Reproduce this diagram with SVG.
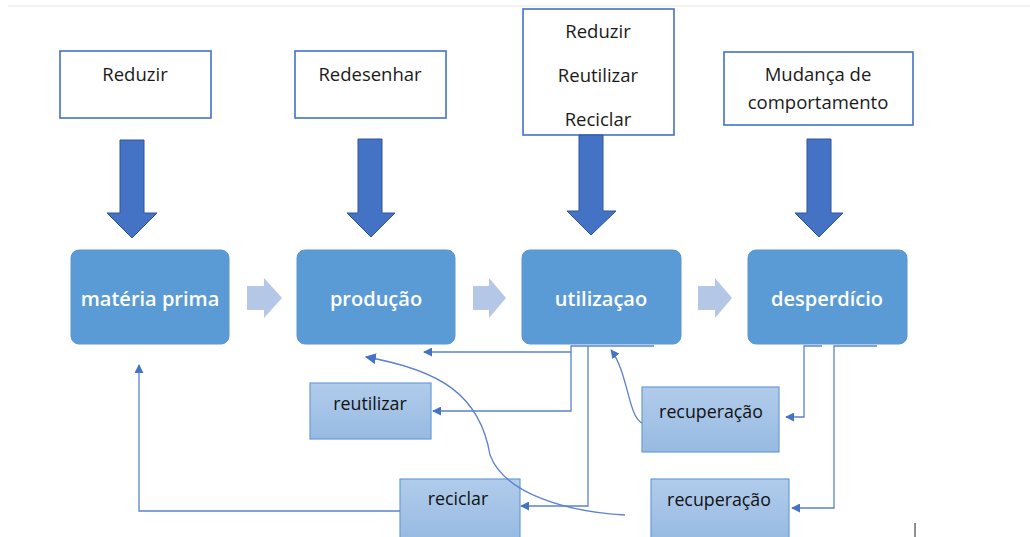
<svg xmlns="http://www.w3.org/2000/svg" width="1030" height="537" viewBox="0 0 1030 537">
  <defs>
    <linearGradient id="softBlue" x1="0" y1="0" x2="0" y2="1">
      <stop offset="0" stop-color="#B1CCEB"/>
      <stop offset="1" stop-color="#97BAE2"/>
    </linearGradient>
    <marker id="tip" viewBox="0 0 10 10" refX="9" refY="5" markerWidth="9" markerHeight="9" markerUnits="userSpaceOnUse" orient="auto">
      <path d="M0,0 L10,5 L0,10 z" fill="#4472C4"/>
    </marker>
    <marker id="tipBig" viewBox="0 0 10 10" refX="9" refY="5" markerWidth="11" markerHeight="11" markerUnits="userSpaceOnUse" orient="auto">
      <path d="M0,0 L10,5 L0,10 z" fill="#4472C4"/>
    </marker>
  </defs>
  <style>
    .note { fill: #FFFFFF; stroke: #4472C4; stroke-width: 1.6; }
    .noteText { font-family: "Open Sans", "Liberation Sans", sans-serif; font-size: 18.5px; fill: #1A1A1A; text-anchor: middle; }
    .stage { fill: #5B9BD5; stroke: #5A96D0; stroke-width: 1; }
    .stageText { font-family: "Open Sans", "Liberation Sans", sans-serif; font-size: 20px; font-weight: 600; fill: #FFFFFF; text-anchor: middle; }
    .down { fill: #4472C4; stroke: #2F5597; stroke-width: 1; }
    .step { fill: #B4C7E7; }
    .sub { fill: url(#softBlue); stroke: #6A9CD6; stroke-width: 1.2; }
    .subText { font-family: "Open Sans", "Liberation Sans", sans-serif; font-size: 17.8px; fill: #111111; text-anchor: middle; }
    .link { fill: none; stroke: #5A82CC; stroke-width: 1.3; }
  </style>

  <rect width="1030" height="537" fill="#FFFFFF"/>
  <line x1="8" y1="6" x2="1030" y2="6" stroke="#EEEEEE" stroke-width="1.5"/>

  <!-- strategy notes -->
  <g id="note-reduzir">
    <rect class="note" x="60" y="51" width="151" height="67"/>
    <text class="noteText" x="135" y="81">Reduzir</text>
  </g>
  <g id="note-redesenhar">
    <rect class="note" x="295" y="51" width="151" height="67"/>
    <text class="noteText" x="370" y="81">Redesenhar</text>
  </g>
  <g id="note-3r">
    <rect class="note" x="523" y="9" width="151" height="126"/>
    <text class="noteText" x="598" y="38">Reduzir</text>
    <text class="noteText" x="598" y="82">Reutilizar</text>
    <text class="noteText" x="598" y="126">Reciclar</text>
  </g>
  <g id="note-mudanca">
    <rect class="note" x="724" y="52" width="189" height="73"/>
    <text class="noteText" x="818" y="81">Mudança de</text>
    <text class="noteText" x="818" y="109">comportamento</text>
  </g>

  <!-- heavy downward arrows -->
  <g id="down-arrows">
    <path class="down" d="M120,140 H144 V213 H157 L132,238 L107,213 H120 Z"/>
    <path class="down" d="M358,139 H382 V213 H395 L371,237 L347,213 H358 Z"/>
    <path class="down" d="M579,135 H603 V211 H616 L591,235 L567,211 H579 Z"/>
    <path class="down" d="M807,139 H831 V213 H843 L819,237 L795,213 H807 Z"/>
  </g>

  <!-- main stages -->
  <g id="stage-materia">
    <rect class="stage" x="71" y="250" width="158" height="94" rx="8"/>
    <text class="stageText" x="150" y="306">matéria prima</text>
  </g>
  <g id="stage-producao">
    <rect class="stage" x="297" y="250" width="158" height="94" rx="8"/>
    <text class="stageText" x="376" y="306">produção</text>
  </g>
  <g id="stage-utilizacao">
    <rect class="stage" x="522" y="250" width="159" height="94" rx="8"/>
    <text class="stageText" x="601" y="306">utilizaçao</text>
  </g>
  <g id="stage-desperdicio">
    <rect class="stage" x="748" y="250" width="159" height="94" rx="8"/>
    <text class="stageText" x="827" y="306">desperdício</text>
  </g>

  <!-- flow chevrons between stages -->
  <g id="flow-steps">
    <path class="step" d="M247,286 H264 V278 L282,298 L264,318 V310 H247 Z"/>
    <path class="step" d="M473,286 H489 V278 L506,298 L489,318 V310 H473 Z"/>
    <path class="step" d="M698,286 H715 V278 L732,298 L715,318 V310 H698 Z"/>
  </g>

  <!-- recovery boxes -->
  <g id="box-reutilizar">
    <rect class="sub" x="310" y="383" width="121" height="56"/>
    <text class="subText" x="370" y="410">reutilizar</text>
  </g>
  <g id="box-reciclar">
    <rect class="sub" x="400" y="479" width="120" height="62"/>
    <text class="subText" x="458" y="505">reciclar</text>
  </g>
  <g id="box-recuperacao-1">
    <rect class="sub" x="642" y="387" width="137" height="65"/>
    <text class="subText" x="711" y="418">recuperação</text>
  </g>
  <g id="box-recuperacao-2">
    <rect class="sub" x="651" y="479" width="138" height="62"/>
    <text class="subText" x="719" y="506">recuperação</text>
  </g>

  <!-- connectors -->
  <g id="connectors">
    <path class="link" d="M654,346 H571 V411 H433" marker-end="url(#tip)"/>
    <path class="link" d="M571,352 H424" marker-end="url(#tip)"/>
    <path class="link" d="M588,346 V506 H521" marker-end="url(#tip)"/>
    <path class="link" d="M642,423 C628,416 628,372 611,350" marker-end="url(#tip)"/>
    <path class="link" d="M625,515 C570,512 505,495 490,455 C480,395 440,370 366,357" marker-end="url(#tipBig)"/>
    <path class="link" d="M822,346 H804 V417 H786" marker-end="url(#tip)"/>
    <path class="link" d="M877,346 H834 V508 H792" marker-end="url(#tip)"/>
    <path class="link" d="M400,511 H139 V365" marker-end="url(#tip)"/>
  </g>

  <line x1="915" y1="523" x2="915" y2="537" stroke="#222222" stroke-width="1"/>
</svg>
